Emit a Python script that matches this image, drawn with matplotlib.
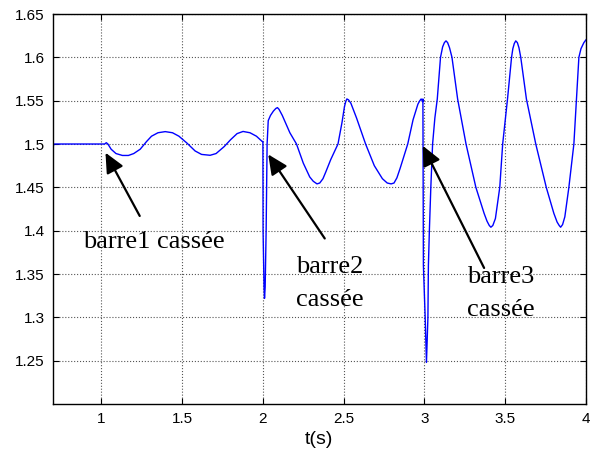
import numpy as np
import matplotlib
matplotlib.use('Agg')
import matplotlib.pyplot as plt

# --- values (t in s, value)
seg1_t = [0.700, 0.703, 0.710, 1.020, 1.030, 1.040, 1.060, 1.090, 1.130, 1.167,
          1.200, 1.240, 1.280, 1.310, 1.350, 1.395, 1.440, 1.480, 1.530, 1.580,
          1.620, 1.673, 1.710, 1.760, 1.800, 1.840, 1.877, 1.920, 1.960, 1.995]
seg1_v = [1.494, 1.499, 1.500, 1.500, 1.5015, 1.500, 1.494, 1.489, 1.4868, 1.4868,
          1.489, 1.494, 1.503, 1.509, 1.513, 1.5143, 1.513, 1.509, 1.501, 1.492,
          1.488, 1.487, 1.489, 1.497, 1.505, 1.512, 1.5145, 1.513, 1.509, 1.503]

seg2_t = [2.000, 2.001, 2.007, 2.010, 2.014, 2.020, 2.026, 2.033, 2.047, 2.065,
          2.080, 2.090, 2.100, 2.120, 2.167, 2.208, 2.250, 2.290, 2.312, 2.335,
          2.352, 2.372, 2.390, 2.420, 2.465, 2.490, 2.505, 2.513, 2.520, 2.530,
          2.545, 2.580, 2.636, 2.690, 2.740, 2.770, 2.794, 2.812, 2.830, 2.850,
          2.897, 2.930, 2.960, 2.972, 2.980, 2.990]
seg2_v = [1.503, 1.400, 1.335, 1.322, 1.335, 1.400, 1.500, 1.527, 1.533, 1.538,
          1.541, 1.542, 1.540, 1.533, 1.513, 1.500, 1.478, 1.462, 1.457, 1.454,
          1.455, 1.460, 1.468, 1.482, 1.500, 1.525, 1.543, 1.549, 1.552, 1.551,
          1.547, 1.530, 1.500, 1.475, 1.460, 1.455, 1.454, 1.455, 1.461, 1.472,
          1.500, 1.528, 1.546, 1.550, 1.552, 1.549]

seg3_t = [2.991, 2.994, 3.005, 3.013, 3.022, 3.025, 3.031, 3.040, 3.051, 3.065,
          3.080, 3.100, 3.113, 3.124, 3.134, 3.144, 3.156, 3.171, 3.206, 3.258,
          3.319, 3.370, 3.388, 3.402, 3.412, 3.424, 3.440, 3.467, 3.485, 3.515,
          3.540, 3.548, 3.557, 3.566, 3.576, 3.586, 3.597, 3.632, 3.690, 3.755,
          3.802, 3.822, 3.835, 3.844, 3.856, 3.870, 3.895, 3.926, 3.942, 3.957,
          3.970, 3.988, 4.000]
seg3_v = [1.552, 1.360, 1.300, 1.248, 1.300, 1.360, 1.400, 1.450, 1.500, 1.530,
          1.552, 1.600, 1.612, 1.617, 1.619, 1.617, 1.611, 1.600, 1.552, 1.500,
          1.450, 1.420, 1.411, 1.406, 1.404, 1.406, 1.414, 1.450, 1.500, 1.552,
          1.600, 1.610, 1.616, 1.619, 1.617, 1.611, 1.600, 1.552, 1.500, 1.450,
          1.420, 1.410, 1.406, 1.404, 1.407, 1.416, 1.450, 1.500, 1.552, 1.600,
          1.610, 1.617, 1.620]

# arrows: (tip t, tip v) and (tail t, tail v)
arrow_tips = [(1.025, 1.490), (2.033, 1.488), (2.990, 1.498)]
arrow_tails = [(1.237, 1.417), (2.383, 1.391), (3.370, 1.357)]
labels = ['barre1 cassée', 'barre2\ncassée', 'barre3\ncassée']
label_pos = [(0.887, 1.380), (2.204, 1.3514), (3.267, 1.3398)]

xticks = [1, 1.5, 2, 2.5, 3, 3.5, 4]
yticks = [1.25, 1.3, 1.35, 1.4, 1.45, 1.5, 1.55, 1.6, 1.65]

t = np.array(seg1_t + seg2_t + seg3_t)
v = np.array(seg1_v + seg2_v + seg3_v)

fig = plt.figure(figsize=(5.99, 4.61), dpi=100)
ax = fig.add_axes((0.0885, 0.1236, 0.8895, 0.846))

ax.plot(t, v, color='#0000ff', lw=1.0)

ax.set_xlim(0.7, 4.0)
ax.set_ylim(1.2, 1.65)
ax.set_xticks(xticks)
ax.set_xticklabels(['1', '1.5', '2', '2.5', '3', '3.5', '4'])
ax.set_yticks(yticks)
ax.set_yticklabels(['1.25', '1.3', '1.35', '1.4', '1.45', '1.5', '1.55', '1.6', '1.65'])

ax.grid(True, ls=':', color='#555555', lw=0.8)
ax.tick_params(direction='in', length=4, width=0.8, top=True, right=True,
               labelsize=11, pad=6)
for lab in ax.get_xticklabels() + ax.get_yticklabels():
    lab.set_family('Liberation Sans')
for s in ax.spines.values():
    s.set_linewidth(1.0)

ax.set_xlabel('t(s)', family='Liberation Sans', fontsize=14, labelpad=3)

for tip, tail in zip(arrow_tips, arrow_tails):
    ax.annotate('', xy=tip, xytext=tail,
                arrowprops=dict(arrowstyle='-|>,head_length=0.6,head_width=0.28',
                                color='k', lw=1.6, mutation_scale=20,
                                shrinkA=0, shrinkB=0))

for txt, (tx, ty) in zip(labels, label_pos):
    for k, line in enumerate(txt.split('\n')):
        ax.text(tx, ty - k * 0.0386, line, family='Liberation Serif',
                fontsize=19, va='baseline', ha='left')

fig.savefig('out.png', dpi=100)
